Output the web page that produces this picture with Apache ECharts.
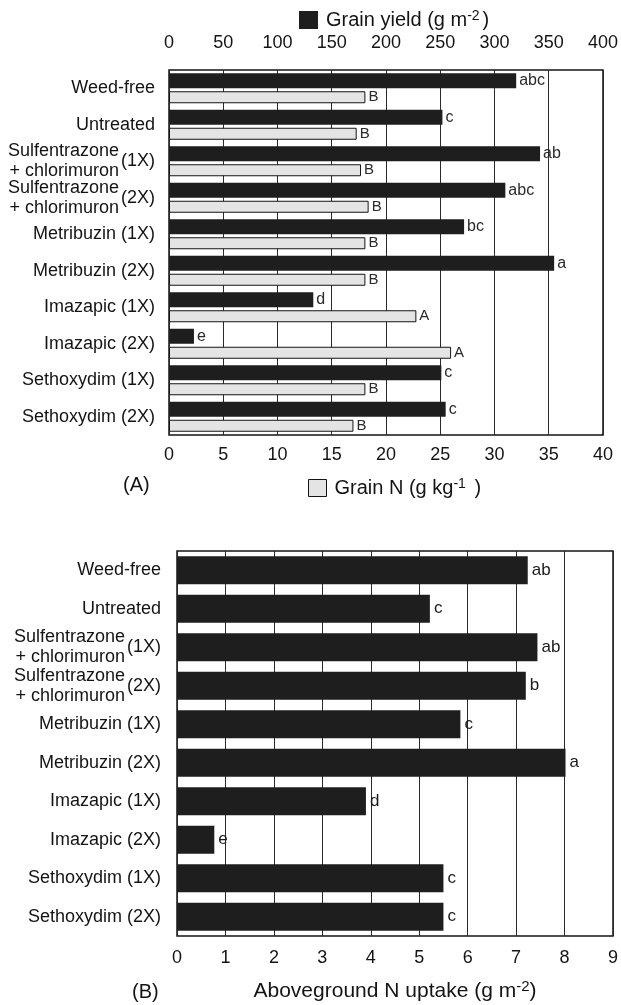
<!DOCTYPE html>
<html>
<head>
<meta charset="utf-8">
<script src="https://cdn.jsdelivr.net/npm/echarts@6/dist/echarts.min.js"></script>
<style>
  html, body { margin: 0; padding: 0; background: #ffffff; }
  #chart { width: 621px; height: 1005px; }
</style>
</head>
<body>
<div id="chart"></div>
<script>
// ---- Data ----
const categories = [
  'Weed-free',
  'Untreated',
  'Sulfentrazone + chlorimuron (1X)',
  'Sulfentrazone + chlorimuron (2X)',
  'Metribuzin (1X)',
  'Metribuzin (2X)',
  'Imazapic (1X)',
  'Imazapic (2X)',
  'Sethoxydim (1X)',
  'Sethoxydim (2X)'
];
const grainYield = [320, 252, 342, 310, 272, 355, 133, 23, 251, 255];
const grainYieldLetters = ['abc', 'c', 'ab', 'abc', 'bc', 'a', 'd', 'e', 'c', 'c'];
const grainN = [18.1, 17.3, 17.7, 18.4, 18.1, 18.1, 22.8, 26.0, 18.1, 17.0];
const grainNLetters = ['B', 'B', 'B', 'B', 'B', 'B', 'A', 'A', 'B', 'B'];
const nUptake = [7.24, 5.22, 7.44, 7.2, 5.85, 8.02, 3.9, 0.77, 5.5, 5.5];
const nUptakeLetters = ['ab', 'c', 'ab', 'b', 'c', 'a', 'd', 'e', 'c', 'c'];

const yieldTicks = { min: 0, max: 400, interval: 50 };
const grainNTicks = { min: 0, max: 40, interval: 5 };
const uptakeTicks = { min: 0, max: 9, interval: 1 };

// ---- Styling ----
const FONT = "'Liberation Sans', Arial, Helvetica, sans-serif";
const INK = '#141414';
const DARK = '#1e1e1e';
const LIGHT = '#e4e4e4';

const splitRe = /^(Sulfentrazone) (\+ chlorimuron) (\(\dX\))$/;
function nameLabel(v) {
  const m = v.match(splitRe);
  if (m) return '{two|' + m[1] + '}\n{two|' + m[2] + '}';
  return v;
}
function rateLabel(v) {
  const m = v.match(splitRe);
  return m ? m[3] : '';
}
const twoStyle = { fontSize: 18, lineHeight: 20, fontFamily: FONT, color: INK, padding: [0, 36, 0, 0] };

const grids = [
  { left: 169, top: 70, width: 434, height: 365 },
  { left: 169, top: 70, width: 434, height: 365 },
  { left: 177, top: 551, width: 442, height: 385 },
  { left: 177, top: 551, width: 442, height: 385 }
];
grids.forEach((g, i) => {
  g.containLabel = false;
  g.show = (i === 0 || i === 2);
  g.borderColor = INK;
  g.borderWidth = 1.5;
  g.backgroundColor = 'transparent';
});

const tickLabel = { fontSize: 18, fontFamily: FONT, color: INK };
const gridLine = { show: true, lineStyle: { color: '#2a2a2a', width: 1 } };

const legendRich = {
  t: { fontSize: 20, fontFamily: FONT, color: INK, lineHeight: 22, padding: [0, 0, 0, 3] },
  s: { fontSize: 14, fontFamily: FONT, color: INK, lineHeight: 22, verticalAlign: 'top', padding: [0, 0, 6, 0] }
};

const option = {
  animation: false,
  backgroundColor: '#ffffff',
  textStyle: { fontFamily: FONT },
  grid: grids,
  legend: [
    {
      data: ['Grain yield'],
      left: 299, top: 9, padding: 0,
      itemWidth: 19, itemHeight: 18,
      icon: 'rect',
      formatter: () => '{t|Grain yield (g m}{s|-2}{t|)}',
      textStyle: { rich: legendRich }
    },
    {
      data: ['Grain N'],
      left: 308, top: 477, padding: 0,
      itemWidth: 18, itemHeight: 17,
      icon: 'rect',
      itemStyle: { borderColor: INK, borderWidth: 1 },
      formatter: () => '{t|Grain N (g kg}{s|-1}{t| )}',
      textStyle: { rich: legendRich }
    }
  ],
  xAxis: [
    {
      gridIndex: 0, type: 'value', position: 'top',
      min: yieldTicks.min, max: yieldTicks.max, interval: yieldTicks.interval,
      axisLine: { show: false }, axisTick: { show: false },
      axisLabel: Object.assign({ margin: 18 }, tickLabel),
      splitLine: { show: false }
    },
    {
      gridIndex: 0, type: 'value', position: 'bottom',
      min: grainNTicks.min, max: grainNTicks.max, interval: grainNTicks.interval,
      axisLine: { show: false }, axisTick: { show: false },
      axisLabel: Object.assign({ margin: 11 }, tickLabel),
      splitLine: gridLine
    },
    { gridIndex: 1, type: 'value', min: 0, max: 1, show: false },
    {
      gridIndex: 2, type: 'value', position: 'bottom',
      min: uptakeTicks.min, max: uptakeTicks.max, interval: uptakeTicks.interval,
      axisLine: { show: false }, axisTick: { show: false },
      axisLabel: Object.assign({ margin: 13 }, tickLabel),
      splitLine: gridLine,
      name: '{t|Aboveground N uptake (g m}{s|-2}{t|)}',
      nameLocation: 'middle',
      nameGap: 43,
      nameTextStyle: {
        rich: {
          t: { fontSize: 21, fontFamily: FONT, color: INK, lineHeight: 24 },
          s: { fontSize: 15, fontFamily: FONT, color: INK, lineHeight: 24, verticalAlign: 'top', padding: [0, 0, 7, 0] }
        }
      }
    },
    { gridIndex: 3, type: 'value', min: 0, max: 1, show: false }
  ],
  yAxis: [
    {
      gridIndex: 0, type: 'category', data: categories, inverse: true,
      axisLine: { show: false }, axisTick: { show: false },
      axisLabel: { fontSize: 18, fontFamily: FONT, color: INK, margin: 14, formatter: nameLabel, rich: { two: twoStyle } }
    },
    {
      gridIndex: 1, type: 'category', data: categories, inverse: true,
      axisLine: { show: false }, axisTick: { show: false }, splitLine: { show: false },
      axisLabel: { fontSize: 18, fontFamily: FONT, color: INK, margin: 14, formatter: rateLabel }
    },
    {
      gridIndex: 2, type: 'category', data: categories, inverse: true,
      axisLine: { show: false }, axisTick: { show: false },
      axisLabel: { fontSize: 18, fontFamily: FONT, color: INK, margin: 16, formatter: nameLabel, rich: { two: twoStyle } }
    },
    {
      gridIndex: 3, type: 'category', data: categories, inverse: true,
      axisLine: { show: false }, axisTick: { show: false }, splitLine: { show: false },
      axisLabel: { fontSize: 18, fontFamily: FONT, color: INK, margin: 16, formatter: rateLabel }
    }
  ],
  series: [
    {
      name: 'Grain yield', type: 'bar', xAxisIndex: 0, yAxisIndex: 0,
      data: grainYield, barWidth: 15, barGap: '20%',
      itemStyle: { color: DARK },
      label: {
        show: true, position: 'right', distance: 3,
        fontSize: 16, fontFamily: FONT, color: '#2a2a2a',
        formatter: p => grainYieldLetters[p.dataIndex]
      }
    },
    {
      name: 'Grain N', type: 'bar', xAxisIndex: 1, yAxisIndex: 0,
      data: grainN, barWidth: 12, barGap: '20%',
      itemStyle: { color: LIGHT, borderColor: INK, borderWidth: 1 },
      label: {
        show: true, position: 'right', distance: 3,
        fontSize: 15, fontFamily: FONT, color: '#2a2a2a',
        formatter: p => grainNLetters[p.dataIndex]
      }
    },
    {
      name: 'Aboveground N uptake', type: 'bar', xAxisIndex: 3, yAxisIndex: 2,
      data: nUptake, barWidth: 28,
      itemStyle: { color: DARK },
      label: {
        show: true, position: 'right', distance: 4,
        fontSize: 17, fontFamily: FONT, color: '#1a1a1a',
        formatter: p => nUptakeLetters[p.dataIndex]
      }
    }
  ],
  graphic: [
    { type: 'text', left: 123, top: 475, style: { text: '(A)', fontSize: 20, fontFamily: FONT, fill: INK } },
    { type: 'text', left: 132, top: 982, style: { text: '(B)', fontSize: 20, fontFamily: FONT, fill: INK } }
  ]
};

const chart = echarts.init(document.getElementById('chart'), null, { renderer: 'canvas' });
chart.setOption(option);
</script>
</body>
</html>
